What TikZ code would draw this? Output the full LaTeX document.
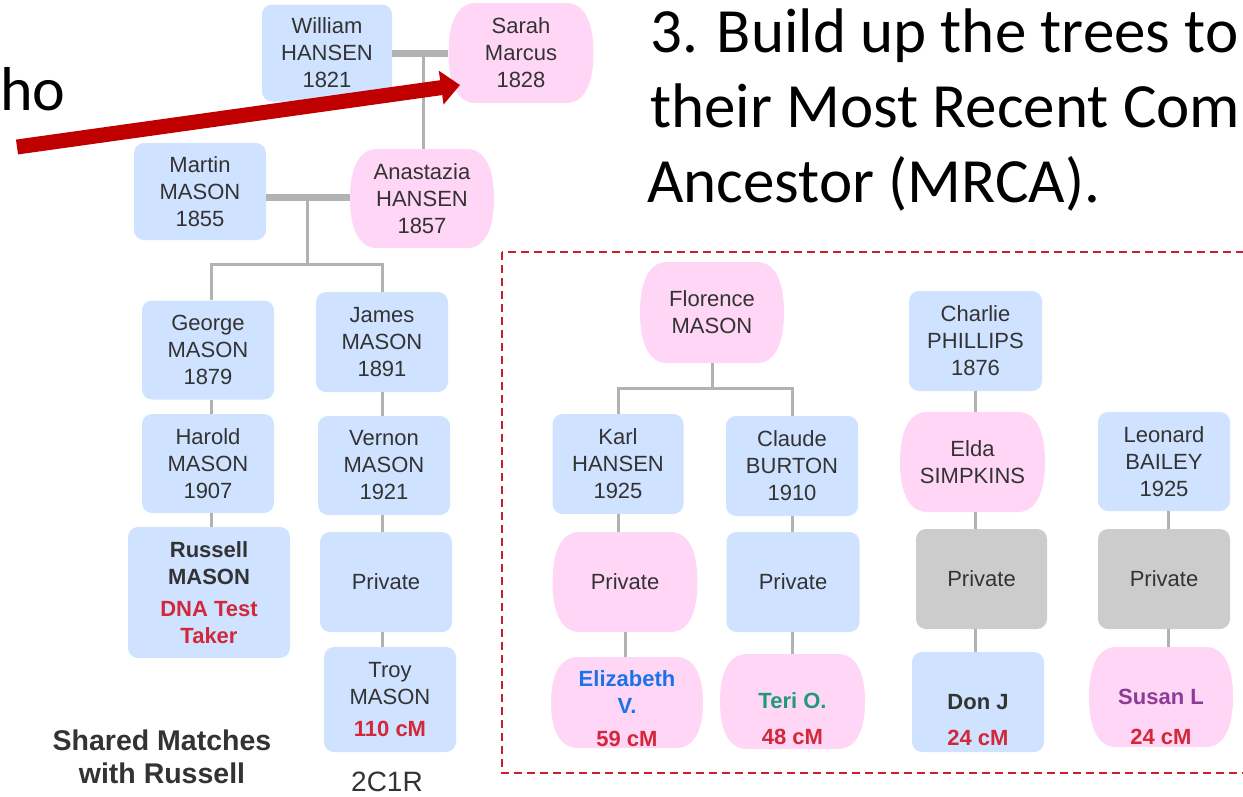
\documentclass[tikz,border=0pt]{standalone}
\usepackage{fontspec}
\setmainfont{Liberation Sans}
\newfontfamily\calibri{Carlito}
\usetikzlibrary{arrows.meta}
\definecolor{bluefill}{HTML}{CFE2FF}
\definecolor{pinkfill}{HTML}{FFD6F5}
\definecolor{greyfill}{HTML}{CCCCCC}
\definecolor{txt}{HTML}{333333}
\definecolor{linegrey}{HTML}{B2B2B2}
\definecolor{cmred}{HTML}{D1283A}
\definecolor{elizblue}{HTML}{1A73E8}
\definecolor{teriteal}{HTML}{1E9A78}
\definecolor{susanpurple}{HTML}{8C3C96}
\definecolor{arrowred}{HTML}{C00000}
\definecolor{boxred}{HTML}{CC1F2D}
\tikzset{
  person/.style={align=center, text=txt, font=\fontsize{22}{27}\selectfont, inner sep=0pt},
  bluebox/.style={person, fill=bluefill, rounded corners=10pt},
  greybox/.style={person, fill=greyfill, rounded corners=10pt},
  conn/.style={draw=linegrey, line width=3pt},
  marr/.style={draw=linegrey, line width=7pt},
  title/.style={anchor=base west, font=\calibri\fontsize{63}{75}\selectfont, inner sep=0pt},
}
\def\pnrx{27}
\def\pnk{0.64}
% pink barrel-shaped person: name, cx, cy, w, h, text
\newcommand\pinknode[6]{%
  \pgfmathsetmacro\pnL{#2-#4/2}\pgfmathsetmacro\pnR{#2+#4/2}%
  \pgfmathsetmacro\pnT{#3-#5/2}\pgfmathsetmacro\pnB{#3+#5/2}%
  \pgfmathsetmacro\pnY{#5/2}%
  \fill[pinkfill] (\pnL+\pnrx,\pnT) -- (\pnR-\pnrx,\pnT)
    .. controls (\pnR-\pnrx+\pnk*\pnrx,\pnT) and (\pnR,#3-\pnk*\pnY) .. (\pnR,#3)
    .. controls (\pnR,#3+\pnk*\pnY) and (\pnR-\pnrx+\pnk*\pnrx,\pnB) .. (\pnR-\pnrx,\pnB)
    -- (\pnL+\pnrx,\pnB)
    .. controls (\pnL+\pnrx-\pnk*\pnrx,\pnB) and (\pnL,#3+\pnk*\pnY) .. (\pnL,#3)
    .. controls (\pnL,#3-\pnk*\pnY) and (\pnL+\pnrx-\pnk*\pnrx,\pnT) .. (\pnL+\pnrx,\pnT) -- cycle;
  \node[person, minimum width=#4pt, minimum height=#5pt] (#1) at (#2,#3) {#6};
}
\begin{document}
\begin{tikzpicture}[x=1pt,y=-1pt]
\useasboundingbox (0,0) rectangle (1243,796);
\clip (0,0) rectangle (1243,796);

% ---------- left tree ----------
\node[bluebox, minimum width=130pt, minimum height=97pt] (william) at (327,53) {William\\HANSEN\\1821};
\pinknode{sarah}{521}{53}{145}{100}{Sarah\\Marcus\\1828}
\node[bluebox, minimum width=132pt, minimum height=97pt] (martin) at (200,191.5) {Martin\\MASON\\1855};
\pinknode{anastazia}{422}{198.5}{144}{99}{Anastazia\\HANSEN\\1857}
\node[bluebox, minimum width=132pt, minimum height=99pt] (george) at (208,350) {George\\MASON\\1879};
\node[bluebox, minimum width=132pt, minimum height=100pt] (james) at (382,342) {James\\MASON\\1891};
\node[bluebox, minimum width=132pt, minimum height=99pt] (harold) at (208,463.5) {Harold\\MASON\\1907};
\node[bluebox, minimum width=132pt, minimum height=99pt] (vernon) at (384,465.5) {Vernon\\MASON\\1921};
\node[bluebox, minimum width=162pt, minimum height=131pt] (russell) at (209,592.5)
  {\textbf{Russell}\\\textbf{MASON}\\[5pt]\textcolor{cmred}{\textbf{DNA Test}}\\\textcolor{cmred}{\textbf{Taker}}};
\node[bluebox, minimum width=132pt, minimum height=100pt] (privj) at (386,582) {Private};
\node[bluebox, minimum width=132pt, minimum height=105pt] (troy) at (390,699.5)
  {Troy\\MASON\\[5pt]\textcolor{cmred}{\textbf{110 cM}}};

\coordinate (m1) at (423,53);
\coordinate (m2) at (307,197);
\coordinate (j2) at (307,264);
\draw[conn] (m1) -- (m1 |- anastazia.north);
\draw[marr] (william.east) -- (sarah.west |- william.east);
\draw[conn] (m2) -- (j2);
\draw[marr] (martin.east |- m2) -- (anastazia.west |- m2);
\draw[conn] ([xshift=3pt]george.north) |- (j2) -| (james.north);
\draw[conn] ([xshift=3pt]george.south) -- ([xshift=3pt]harold.north);
\draw[conn] ([xshift=3pt]harold.south) -- ([xshift=3pt]harold.south |- russell.north);
\draw[conn] (james.south) -- (james.south |- vernon.north);
\draw[conn] (james.south |- vernon.south) -- (james.south |- privj.north);
\draw[conn] (james.south |- privj.south) -- (james.south |- troy.north);

\node[font=\bfseries\fontsize{28.5}{33}\selectfont, text=txt, align=center, inner sep=0pt] (shared) at (162,757) {Shared Matches\\with Russell};
\node[anchor=base, font=\fontsize{28}{33}\selectfont, text=txt, inner sep=0pt] (rel) at (387,791) {2C1R};

% ---------- right group ----------
\draw[boxred, line width=2pt, dash pattern=on 8pt off 5pt] (502,252) rectangle (1262,773);

\pinknode{florence}{712}{312.5}{144}{101}{Florence\\MASON}
\node[bluebox, minimum width=131pt, minimum height=100pt] (karl) at (618,464) {Karl\\HANSEN\\1925};
\node[bluebox, minimum width=132pt, minimum height=100pt] (claude) at (792,466) {Claude\\BURTON\\1910};
\pinknode{privk}{625}{582}{145}{100}{Private}
\node[bluebox, minimum width=133pt, minimum height=100pt] (privc) at (793,582) {Private};
\pinknode{eliz}{627}{702.5}{152}{91}{}
\node[person] (elizt) at (627,708.5) {\textcolor{elizblue}{\textbf{Elizabeth}}\\\textcolor{elizblue}{\textbf{V.}}\\[6pt]\textcolor{cmred}{\textbf{59 cM}}};
\pinknode{teri}{792.5}{701.5}{145}{95}{}
\node[person] (terit) at (792.5,719) {\textcolor{teriteal}{\textbf{Teri O.}}\\[9pt]\textcolor{cmred}{\textbf{48 cM}}};

\node[bluebox, minimum width=133pt, minimum height=100pt] (charlie) at (975.5,341) {Charlie\\PHILLIPS\\1876};
\pinknode{elda}{972.5}{462}{145}{100}{Elda\\SIMPKINS}
\node[greybox, minimum width=131pt, minimum height=100pt] (privs) at (981.5,579) {Private};
\node[bluebox, minimum width=132pt, minimum height=100pt] (donj) at (978,702) {};
\node[person] (donjt) at (978,720) {\textbf{Don J}\\[9pt]\textcolor{cmred}{\textbf{24 cM}}};

\node[bluebox, minimum width=132pt, minimum height=99pt] (leonard) at (1164,461.5) {Leonard\\BAILEY\\1925};
\node[greybox, minimum width=132pt, minimum height=100pt] (privl) at (1164,579) {Private};
\pinknode{susan}{1161}{697}{144}{100}{}
\node[person] (susant) at (1161,717) {\textcolor{susanpurple}{\textbf{Susan L}}\\[13pt]\textcolor{cmred}{\textbf{24 cM}}};

\coordinate (j3) at (712,388);
\draw[conn] (florence.south) -- (j3);
\draw[conn] (karl.north) |- (j3) -| (claude.north);
\draw[conn] (karl.south) -- (karl.south |- privk.north);
\draw[conn] (privk.south) -- (privk.south |- eliz.north);
\draw[conn] (claude.south) -- (claude.south |- privc.north);
\draw[conn] (claude.south |- privc.south) -- (claude.south |- teri.north);
\draw[conn] (charlie.south) -- (charlie.south |- elda.north);
\draw[conn] (charlie.south |- elda.south) -- (charlie.south |- privs.north);
\draw[conn] (charlie.south |- privs.south) -- (charlie.south |- donj.north);
\draw[conn] ([xshift=4pt]leonard.south) -- ([xshift=4pt]leonard.south |- privl.north);
\draw[conn] ([xshift=4pt]leonard.south |- privl.south) -- ([xshift=4pt]leonard.south |- susan.north);

% ---------- title and arrow ----------
\node[title] (t1) at (650,52) {3. Build up the trees to};
\node[title] (t2) at (650,127) {their Most Recent Com};
\node[title] (t3) at (647,202) {Ancestor (MRCA).};
\node[anchor=base west, font=\calibri\fontsize{62}{62}\selectfont, inner sep=0pt] (ho) at (0,110) {ho};

\coordinate (tail) at (17,147);
\coordinate (tip) at (460,85);
\draw[arrowred, line width=15pt, -{Triangle[length=19pt, width=33pt]}] (tail) -- (tip);
\end{tikzpicture}
\end{document}
